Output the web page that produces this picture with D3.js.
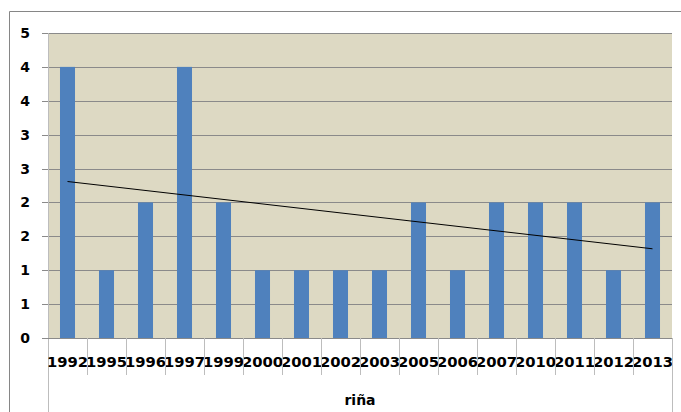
<!DOCTYPE html>
<html>
<head>
<meta charset="utf-8">
<script src="https://cdn.jsdelivr.net/npm/d3@7"></script>
<style>
  html, body { margin: 0; padding: 0; background: #fff; }
  svg text { font-family: "DejaVu Sans", Verdana, sans-serif; font-weight: bold; fill: #000; }
</style>
</head>
<body>
<svg id="chart" width="681" height="412"></svg>
<script>
// Yearly counts
const years = ["1992","1995","1996","1997","1999","2000","2001","2002","2003","2005","2006","2007","2010","2011","2012","2013"];
const counts = [4, 1, 2, 4, 2, 1, 1, 1, 1, 2, 1, 2, 2, 2, 1, 2];
const groupLabel = "riña";
// Value axis: 0 to 4.5 in steps of 0.5, labels shown with no decimals
const yTicks = [0, 0.5, 1, 1.5, 2, 2.5, 3, 3.5, 4, 4.5];

const svg = d3.select("#chart");
const plot = { left: 48, right: 672, top: 33, bottom: 338 };

// Outer frame
svg.append("path")
  .attr("d", `M9.5,412 V11.5 H681`)
  .attr("fill", "none").attr("stroke", "#868686").attr("stroke-width", 1);

const x = d3.scaleBand().domain(years).range([plot.left, plot.right]).paddingInner(0).paddingOuter(0);
const y = d3.scaleLinear().domain([0, 4.5]).range([plot.bottom, plot.top]);

// Plot background
svg.append("rect")
  .attr("x", plot.left).attr("y", plot.top)
  .attr("width", plot.right - plot.left).attr("height", plot.bottom - plot.top)
  .attr("fill", "#ddd9c3");

// Value axis with gridlines (half-values round up, as 0-decimal labels)
const fmt = v => String(Math.floor(v + 0.5));
const yAxis = d3.axisLeft(y).tickValues(yTicks).tickFormat(fmt)
  .tickSize(-(plot.right - plot.left)).tickPadding(12);
const gy = svg.append("g").attr("transform", `translate(${plot.left},0)`).call(yAxis);
gy.select(".domain").remove();
gy.selectAll(".tick line").attr("stroke", "#8a8a8a").attr("x1", -6).attr("shape-rendering", "crispEdges");
gy.selectAll(".tick text").attr("font-size", 14).attr("x", -18);

// Vertical axis line
svg.append("line")
  .attr("x1", plot.left + 0.5).attr("x2", plot.left + 0.5)
  .attr("y1", plot.top).attr("y2", 412)
  .attr("stroke", "#bdbdbd");

// Bars
const barW = x.bandwidth() * 0.385;
svg.append("g").selectAll("rect").data(years).join("rect")
  .attr("x", (d) => x(d) + (x.bandwidth() - barW) / 2)
  .attr("width", barW)
  .attr("y", (d, i) => y(counts[i]))
  .attr("height", (d, i) => y(0) - y(counts[i]))
  .attr("fill", "#4f81bd");

// Category axis baseline
svg.append("line")
  .attr("x1", plot.left).attr("x2", plot.right)
  .attr("y1", plot.bottom + 0.5).attr("y2", plot.bottom + 0.5)
  .attr("stroke", "#8a8a8a");

// Category labels
const gx = svg.append("g").attr("transform", `translate(0,${plot.bottom})`)
  .call(d3.axisBottom(x).tickSize(0).tickPadding(0));
gx.select(".domain").remove();
gx.selectAll(".tick text").attr("font-size", 14.8).attr("dy", 0).attr("y", 28.5);

// Category separators
svg.append("g").selectAll("line").data(years.slice(1)).join("line")
  .attr("x1", d => Math.round(x(d)) + 0.5).attr("x2", d => Math.round(x(d)) + 0.5)
  .attr("y1", plot.bottom).attr("y2", 375)
  .attr("stroke", "#bdbdbd");
svg.append("line")
  .attr("x1", plot.right + 0.5).attr("x2", plot.right + 0.5)
  .attr("y1", plot.bottom).attr("y2", 412)
  .attr("stroke", "#bdbdbd");

// Group label
svg.append("text")
  .attr("x", (plot.left + plot.right) / 2).attr("y", 405)
  .attr("text-anchor", "middle").attr("font-size", 14)
  .text(groupLabel);

// Linear trend line (least squares over category index)
const n = counts.length;
const xs = d3.range(1, n + 1);
const mx = d3.mean(xs), my = d3.mean(counts);
const slope = d3.sum(xs, (v, i) => (v - mx) * (counts[i] - my)) / d3.sum(xs, v => (v - mx) ** 2);
const intercept = my - slope * mx;
const cx = i => x(years[i]) + x.bandwidth() / 2;
svg.append("line")
  .attr("x1", cx(0)).attr("y1", y(intercept + slope * 1))
  .attr("x2", cx(n - 1)).attr("y2", y(intercept + slope * n))
  .attr("stroke", "#000").attr("stroke-width", 1);
</script>
</body>
</html>
